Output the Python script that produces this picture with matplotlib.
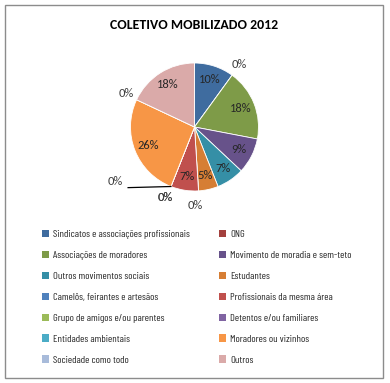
import numpy as np
import matplotlib
matplotlib.use("Agg")
import matplotlib.pyplot as plt
from matplotlib.patches import Rectangle

title = "COLETIVO MOBILIZADO 2012"
categories = [
    "Sindicatos e associações profissionais", "ONG",
    "Associações de moradores", "Movimento de moradia e sem-teto",
    "Outros movimentos sociais", "Estudantes",
    "Camelôs, feirantes e artesãos", "Profissionais da mesma área",
    "Grupo de amigos e/ou parentes", "Detentos e/ou familiares",
    "Entidades ambientais", "Moradores ou vizinhos",
    "Sociedade como todo", "Outros",
]
values = [10, 0, 18, 9, 7, 5, 0, 7, 0, 0, 0, 26, 0, 18]
colors = ["#3F6C9F", "#A3403D", "#7E9B48", "#67528A", "#358FA6", "#D67E34",
          "#4F81BD", "#C0504D", "#9BBB59", "#8064A2", "#4BACC6", "#F79646",
          "#A8BBDA", "#DAAAA9"]

# placement tweaks for the zero-value labels: index -> (radius, angle nudge deg, leader)
zero_pos = {1: (1.2, 0, False), 6: (1.22, 3, False), 8: (1.19, 1, False),
            9: (1.5, 34, True), 10: (1.19, 1, False), 12: (1.19, 1, False)}

MAIN_FONT = ["Carlito", "Lato", "DejaVu Sans"]
LEG_FONT = ["Barlow Condensed", "Roboto Condensed", "DejaVu Sans"]

W, H = 390, 383
fig = plt.figure(figsize=(W / 100, H / 100), dpi=100)
fig.patch.set_facecolor("white")
fig.patches.append(Rectangle((5 / W, 1 - 378 / H), 378 / W, 373 / H,
                             transform=fig.transFigure, fill=False,
                             edgecolor="#8C8C8C", linewidth=1.0))

fig.text(194 / W, 1 - 25 / H, title, ha="center", va="center",
         fontsize=10, fontweight="bold", family=MAIN_FONT)

R = 64
cx, cy = 194.5, 127
half = 130
ax = fig.add_axes([(cx - half) / W, 1 - (cy + half) / H, 2 * half / W, 2 * half / H])

wedges, _ = ax.pie(values, colors=colors, startangle=90, counterclock=False,
                   radius=1.0, wedgeprops=dict(edgecolor="white", linewidth=0.6))
lim = half / R
ax.set_xlim(-lim, lim)
ax.set_ylim(-lim, lim)
ax.set_aspect("equal")
ax.axis("off")

total = sum(values)
cum = 0
for i, v in enumerate(values):
    frac_start = cum / total
    cum += v
    frac_end = cum / total
    mid = (frac_start + frac_end) / 2
    ang_cw = mid * 360
    label = f"{round(100 * v / total):d}%"
    if v > 0:
        r = 0.78
        a = np.deg2rad(90 - ang_cw)
        ax.text(r * np.cos(a), r * np.sin(a), label, ha="center", va="center",
                fontsize=9, color="#262626", family=MAIN_FONT)
    else:
        r, nudge, leader = zero_pos[i]
        a = np.deg2rad(90 - (ang_cw + nudge))
        x, y = r * np.cos(a), r * np.sin(a)
        ax.text(x, y, label, ha="center", va="center", fontsize=9,
                color="#404040", family=MAIN_FONT)
        if leader:
            ae = np.deg2rad(90 - ang_cw)
            ax.plot([x + 0.2, 1.0 * np.cos(ae)], [y - 0.1, 1.0 * np.sin(ae)],
                    color="black", linewidth=0.9)

# legend: two fixed columns, filled row by row
for col, x0 in enumerate((38, 215)):
    idx = list(range(col, len(categories), 2))
    leg = fig.legend([wedges[i] for i in idx], [categories[i] for i in idx],
                     loc="upper left", bbox_to_anchor=(x0 / W, 1 - 226 / H),
                     frameon=False, prop=dict(family=LEG_FONT, size=7.5),
                     handlelength=0.7, handleheight=0.7, handletextpad=0.35,
                     labelspacing=1.11, borderaxespad=0)
    for t in leg.get_texts():
        t.set_color("#262626")
    for h in leg.legend_handles:
        h.set_edgecolor("none")

fig.savefig("out.png", dpi=100, facecolor="white")
